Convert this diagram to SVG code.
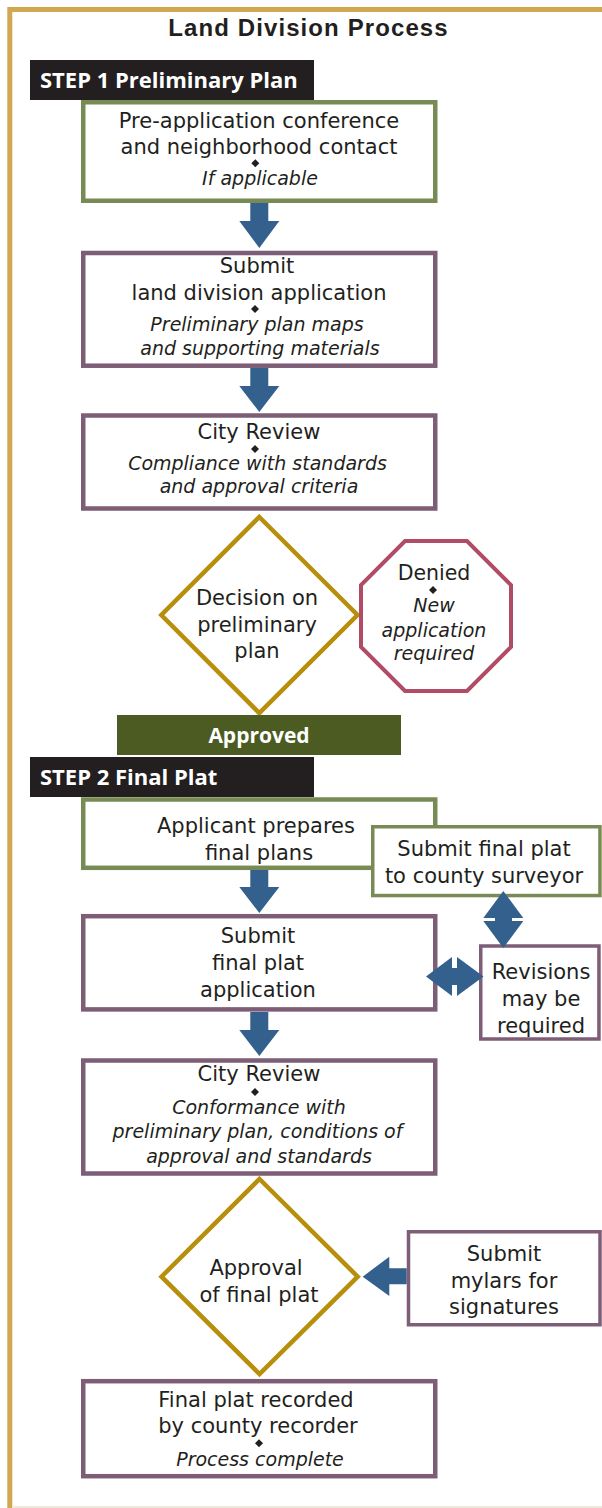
<svg xmlns="http://www.w3.org/2000/svg" width="602" height="1508" viewBox="0 0 602 1508">
<defs>
<style>
.t{font-family:"DejaVu Sans","Liberation Sans",sans-serif;font-size:21px;fill:#231F20;text-anchor:middle}
.i{font-family:"DejaVu Sans","Liberation Sans",sans-serif;font-size:19px;font-style:italic;fill:#231F20;text-anchor:middle}
.h{font-family:"Open Sans","Liberation Sans",sans-serif;font-size:22px;font-weight:bold;fill:#FFFFFF}
.g{fill:#FFFFFF;stroke:#788B55;stroke-width:4.5}
.p{fill:#FFFFFF;stroke:#7E5D77;stroke-width:4.5}
.gs{fill:#FFFFFF;stroke:#788B55;stroke-width:3.5}
.ps{fill:#FFFFFF;stroke:#7E5D77;stroke-width:3.5}
.d{fill:#FFFFFF;stroke:#B88F0C;stroke-width:4.5}
.a{fill:#33608D}
.b{fill:#231F20}
</style>
</defs>
<rect x="0" y="0" width="602" height="1508" fill="#FFFFFF"/>
<g id="frame">
<path d="M9.8,1508 V9.5 H602" fill="none" stroke="#D0A851" stroke-width="5"/>
<line x1="12" y1="1507" x2="602" y2="1507" stroke="#F1E9D8" stroke-width="2"/>
</g>
<g id="title">
<text x="308.5" y="36" style="font-family:'Liberation Sans',Arial,sans-serif;font-size:24px;font-weight:bold;fill:#231F20;letter-spacing:1.1px" text-anchor="middle">Land Division Process</text>
</g>
<g id="step1">
<rect x="30" y="60" width="284" height="40" fill="#231F20"/>
<text class="h" x="40" y="88">STEP 1 Preliminary Plan</text>
</g>
<g id="preapp">
<rect class="g" x="83.25" y="102.25" width="352" height="98.5"/>
<text class="t" x="259" y="128">Pre-application conference</text>
<text class="t" x="259" y="154">and neighborhood contact</text>
<polygon class="b" points="255.3,159.3 259.3,163.3 255.3,167.3 251.3,163.3"/>
<text class="i" x="260" y="185">If applicable</text>
</g>
<g id="submitapp">
<rect class="p" x="83.25" y="253" width="352" height="112.7"/>
<text class="t" x="257" y="273">Submit</text>
<text class="t" x="259" y="300">land division application</text>
<polygon class="b" points="255,305 259,309 255,313 251,309"/>
<text class="i" x="257" y="331">Preliminary plan maps</text>
<text class="i" x="260" y="355">and supporting materials</text>
</g>
<g id="review1">
<rect class="p" x="83.25" y="415.5" width="352" height="93"/>
<text class="t" x="259" y="439">City Review</text>
<polygon class="b" points="255,445 259,449 255,453 251,449"/>
<text class="i" x="257.5" y="470">Compliance with standards</text>
<text class="i" x="259" y="493">and approval criteria</text>
</g>
<g id="decision1">
<polygon class="d" points="259.3,517 357.5,615 259.3,713 161.3,615"/>
<text class="t" x="257" y="605">Decision on</text>
<text class="t" x="257" y="632">preliminary</text>
<text class="t" x="257" y="658">plan</text>
</g>
<g id="denied">
<polygon points="405,541 467,541 511,585 511,647 467,691 405,691 361,647 361,585" fill="#FFFFFF" stroke="#B04C66" stroke-width="4"/>
<text class="t" style="font-size:20.5px" x="434" y="580">Denied</text>
<polygon class="b" points="433,586 437,590 433,594 429,590"/>
<text class="i" x="434" y="612">New</text>
<text class="i" x="434" y="637">application</text>
<text class="i" x="434" y="660">required</text>
</g>
<g id="approved">
<rect x="117" y="715" width="284" height="40" fill="#4B5B21"/>
<text class="h" style="font-size:21px" x="259" y="743" text-anchor="middle">Approved</text>
</g>
<g id="step2">
<rect x="30" y="757" width="284" height="40" fill="#231F20"/>
<text class="h" x="40" y="785">STEP 2 Final Plat</text>
</g>
<g id="prepares">
<rect class="g" x="83.25" y="799.5" width="352" height="68.3"/>
<text class="t" x="256" y="833">Applicant prepares</text>
<text class="t" x="259" y="860">final plans</text>
</g>
<g id="surveyor">
<rect class="gs" x="372.75" y="826.75" width="227.2" height="68.8"/>
<text class="t" x="484" y="856">Submit final plat</text>
<text class="t" x="484" y="883">to county surveyor</text>
</g>
<g id="submitfinal">
<rect class="p" x="83.25" y="916.2" width="352" height="93.2"/>
<text class="t" x="258" y="943">Submit</text>
<text class="t" x="258" y="970">final plat</text>
<text class="t" x="258" y="997">application</text>
</g>
<g id="revisions">
<rect class="ps" x="480.75" y="946" width="118.2" height="93"/>
<text class="t" x="541" y="979">Revisions</text>
<text class="t" x="541" y="1006">may be</text>
<text class="t" x="541" y="1033">required</text>
</g>
<g id="review2">
<rect class="p" x="83.25" y="1060.5" width="352" height="113"/>
<text class="t" x="259" y="1081">City Review</text>
<polygon class="b" points="255,1088 259,1092 255,1096 251,1092"/>
<text class="i" x="259" y="1114">Conformance with</text>
<text class="i" x="257.5" y="1138">preliminary plan, conditions of</text>
<text class="i" x="259" y="1163">approval and standards</text>
</g>
<g id="decision2">
<polygon class="d" points="259.5,1179 357.7,1276.7 259.5,1374 161.5,1276.7"/>
<text class="t" x="256" y="1275">Approval</text>
<text class="t" x="259" y="1302">of final plat</text>
</g>
<g id="mylars">
<rect class="ps" x="408.5" y="1231.75" width="191.5" height="93"/>
<text class="t" x="504" y="1261">Submit</text>
<text class="t" x="504" y="1288">mylars for</text>
<text class="t" x="504" y="1314">signatures</text>
</g>
<g id="recorded">
<rect class="p" x="83.25" y="1381.2" width="352" height="95"/>
<text class="t" x="256" y="1407">Final plat recorded</text>
<text class="t" x="258" y="1433">by county recorder</text>
<polygon class="b" points="259,1439.3 263,1443.3 259,1447.3 255,1443.3"/>
<text class="i" x="260" y="1466">Process complete</text>
</g>
<g id="connectors">
<polygon class="a" points="250.3,203 268.3,203 268.3,221 279.3,221 259.3,248 239.3,221 250.3,221"/>
<polygon class="a" points="250.3,368 268.3,368 268.3,386 279.3,386 259.3,412 239.3,386 250.3,386"/>
<polygon class="a" points="250.3,870 268.3,870 268.3,887 279.3,887 259.3,913 239.3,887 250.3,887"/>
<polygon class="a" points="250.3,1012 268.3,1012 268.3,1030 279.3,1030 259.3,1056 239.3,1030 250.3,1030"/>
<polygon class="a" points="406.7,1268.3 389.3,1268.3 389.3,1256.7 362.7,1276.7 389.3,1296 389.3,1284.3 406.7,1284.3"/>
<polygon class="a" points="503.3,891 523.3,918 483.3,918"/>
<rect class="a" x="495" y="916" width="17" height="7"/>
<polygon class="a" points="483.3,921 523.3,921 503.3,948"/>
<polygon class="a" points="426,976.5 452,957 452,996"/>
<rect class="a" x="450" y="968" width="9" height="17"/>
<polygon class="a" points="457,957 483.5,976.5 457,996"/>
</g>
</svg>
